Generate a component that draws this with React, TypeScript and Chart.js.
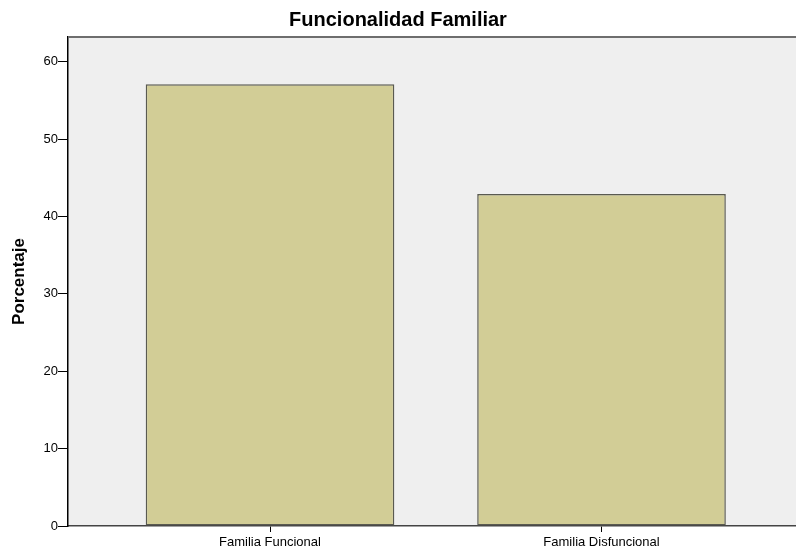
import React, { useEffect, useRef } from 'react';
import { Chart, registerables } from 'chart.js';

Chart.register(...registerables);

const chartTitle = 'Funcionalidad Familiar';
const yAxisTitle = 'Porcentaje';
const categories = ['Familia Funcional', 'Familia Disfuncional'];
const categoryPositions = [1, 2];
const percentages = [57.1, 42.9];
const yTickValues = [0, 10, 20, 30, 40, 50, 60];

const FONT = "'Liberation Sans', Arial, sans-serif";

const plotBackground = {
  id: 'plotBackground',
  beforeDraw(chart: any) {
    const { ctx, chartArea } = chart;
    ctx.save();
    ctx.fillStyle = '#EFEFEF';
    ctx.fillRect(chartArea.left, chartArea.top, chartArea.right - chartArea.left, chartArea.bottom - chartArea.top);
    ctx.restore();
  },
  afterDraw(chart: any) {
    const { ctx, chartArea } = chart;
    ctx.save();
    ctx.strokeStyle = '#6e6e6e';
    ctx.lineWidth = 2;
    ctx.beginPath();
    ctx.moveTo(chartArea.left, chartArea.top);
    ctx.lineTo(chartArea.right, chartArea.top);
    ctx.stroke();
    ctx.restore();
  },
};

export default function App() {
  const canvasRef = useRef<HTMLCanvasElement | null>(null);

  useEffect(() => {
    const canvas = canvasRef.current;
    if (!canvas) return;
    const chart = new Chart(canvas, {
      type: 'bar',
      data: {
        datasets: [
          {
            label: yAxisTitle,
            data: categories.map((_, i) => ({ x: categoryPositions[i], y: percentages[i] })),
            backgroundColor: '#D2CD96',
            borderColor: '#5a5a50',
            borderWidth: 1.5,
            borderSkipped: false,
            categoryPercentage: 1,
            barPercentage: 0.75,
          },
        ],
      },
      options: {
        responsive: false,
        animation: false,
        layout: { padding: { left: 0, right: 0, top: 0, bottom: 0 } },
        plugins: {
          legend: { display: false },
          tooltip: { enabled: false },
          title: {
            display: true,
            text: chartTitle,
            color: '#000',
            font: { family: FONT, size: 20, weight: 'bold', lineHeight: 1.2 },
            padding: { top: 8.5, bottom: 4.5 },
          },
        },
        scales: {
          x: {
            type: 'linear',
            offset: false,
            min: 0.3906,
            max: 2.5867,
            afterBuildTicks: (scale: any) => {
              scale.ticks = categoryPositions.map((v) => ({ value: v }));
            },
            afterFit: (scale: any) => {
              scale.height = 26;
            },
            ticks: {
              autoSkip: false,
              maxRotation: 0,
              color: '#000',
              padding: 3,
              font: { family: FONT, size: 13 },
              callback: (v: any) => categories[categoryPositions.indexOf(Number(v))] ?? '',
            },
            grid: {
              display: true,
              offset: false,
              drawOnChartArea: false,
              drawTicks: true,
              tickLength: 6,
              color: '#000',
            },
            border: { display: true, color: '#444', width: 1.5 },
          },
          y: {
            min: 0,
            max: 63.2,
            afterBuildTicks: (scale: any) => {
              scale.ticks = yTickValues.map((v) => ({ value: v }));
            },
            afterFit: (scale: any) => {
              scale.width = 68;
            },
            ticks: {
              color: '#000',
              padding: 0,
              font: { family: FONT, size: 13 },
            },
            grid: {
              display: true,
              drawOnChartArea: false,
              drawTicks: true,
              tickLength: 10,
              color: '#000',
            },
            border: { display: true, color: '#000', width: 1.5 },
            title: {
              display: true,
              text: yAxisTitle,
              color: '#000',
              font: { family: FONT, size: 17, weight: 'bold' },
              padding: { top: 9, bottom: 0 },
            },
          },
        },
      },
      plugins: [plotBackground],
    });
    return () => chart.destroy();
  }, []);

  return (
    <div style={{ position: 'fixed', left: 0, top: 0, width: 796, height: 552, background: '#fff' }}>
      <canvas ref={canvasRef} width={796} height={552} />
    </div>
  );
}
